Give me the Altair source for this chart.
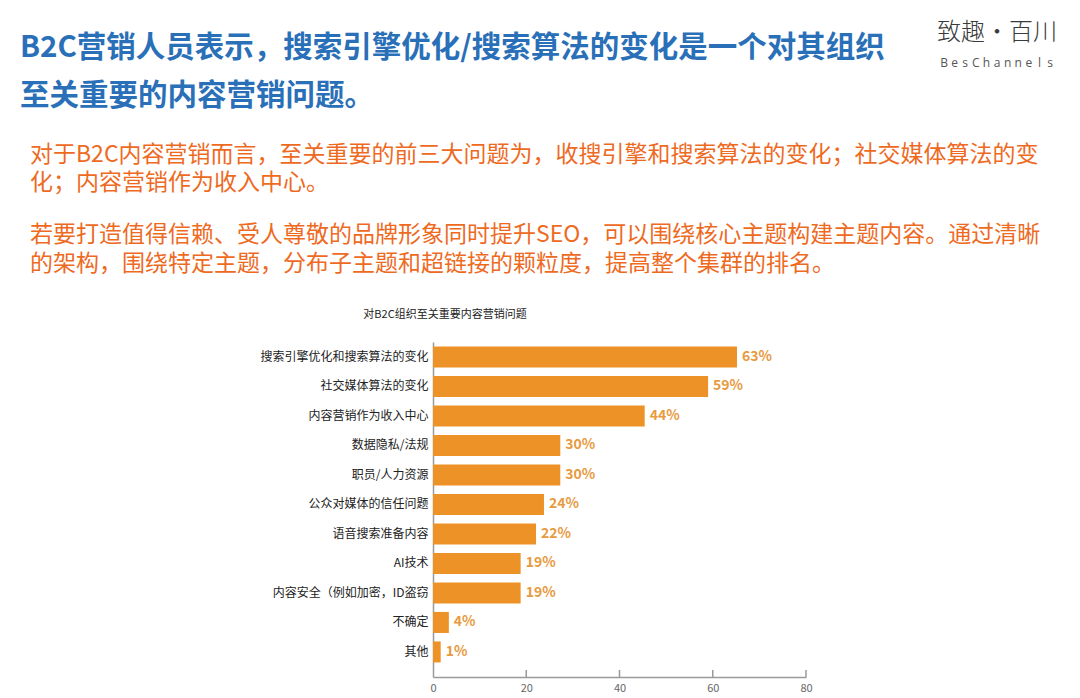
import altair as alt
import pandas as pd

categories = [
    "搜索引擎优化和搜索算法的变化",
    "社交媒体算法的变化",
    "内容营销作为收入中心",
    "数据隐私/法规",
    "职员/人力资源",
    "公众对媒体的信任问题",
    "语音搜索准备内容",
    "AI技术",
    "内容安全（例如加密，ID盗窃",
    "不确定",
    "其他",
]
bar_values = [65.2, 59.0, 45.4, 27.3, 27.3, 23.8, 22.1, 18.8, 18.8, 3.4, 1.65]
labels = ["63%", "59%", "44%", "30%", "30%", "24%", "22%", "19%", "19%", "4%", "1%"]
x_ticks = [0, 20, 40, 60, 80]

title_lines = [
    "B2C营销人员表示，搜索引擎优化/搜索算法的变化是一个对其组织",
    "至关重要的内容营销问题。",
]
para_lines = [
    "对于B2C内容营销而言，至关重要的前三大问题为，收搜引擎和搜索算法的变化；社交媒体算法的变",
    "化；内容营销作为收入中心。",
    "若要打造值得信赖、受人尊敬的品牌形象同时提升SEO，可以围绕核心主题构建主题内容。通过清晰",
    "的架构，围绕特定主题，分布子主题和超链接的颗粒度，提高整个集群的排名。",
]
chart_title = "对B2C组织至关重要内容营销问题"
logo_cn = "致趣·百川"
logo_en = "BesChannels"

FONT = "Noto Sans CJK SC"
BAR = "#ED9226"
W, H = 373, 335

df = pd.DataFrame({"cat": categories, "v": bar_values, "lab": labels})

y_enc = alt.Y(
    "cat:N",
    sort=categories,
    scale=alt.Scale(paddingInner=0.287, paddingOuter=0.321, align=0.233),
    axis=alt.Axis(
        title=None, ticks=False, labelPadding=5, labelFont=FONT, labelFontSize=12,
        labelColor="#222222", domainColor="#9a9a9a", domainWidth=1.5, labelLimit=300,
    ),
)
x_scale = alt.Scale(domain=[0, 80], nice=False)

bars = alt.Chart(df).mark_bar(color=BAR).encode(
    x=alt.X(
        "v:Q", scale=x_scale,
        axis=alt.Axis(
            title=None, values=x_ticks, ticks=False, grid=False, labelPadding=5,
            labelFlush=False, labelFont=FONT, labelFontSize=11, labelColor="#666666",
            domainColor="#9a9a9a", domainWidth=1.5,
        ),
    ),
    y=y_enc,
)

text = alt.Chart(df).mark_text(
    align="left", baseline="middle", dx=5, font=FONT, fontSize=14,
    fontWeight="bold", color="#E89A3E",
).encode(x=alt.X("v:Q", scale=x_scale), y=alt.Y("cat:N", sort=categories), text="lab:N")

ticks = alt.Chart(pd.DataFrame({"t": x_ticks[1:]})).mark_rule(
    color="#9a9a9a", strokeWidth=1.5
).encode(x=alt.X("t:Q", scale=x_scale), y=alt.value(H - 7), y2=alt.value(H))


def label(txt, x, y, size, color, weight="normal", align="left", font=FONT):
    return alt.Chart(pd.DataFrame({"t": [txt]})).mark_text(
        align=align, baseline="middle", font=font, fontSize=size,
        fontWeight=weight, color=color,
    ).encode(x=alt.value(x), y=alt.value(y), text="t:N")


BLUE = "#2A70B8"
ORANGE = "#EE6A1F"
annots = [
    label(title_lines[0], -413, -294, 29.5, BLUE, "bold"),
    label(title_lines[1], -413, -246, 29.5, BLUE, "bold"),
    label(para_lines[0], -403, -187, 23, ORANGE),
    label(para_lines[1], -403, -159, 23, ORANGE),
    label(para_lines[2], -403, -107, 23, ORANGE),
    label(para_lines[3], -403, -78, 23, ORANGE),
    label(chart_title, 12, -27, 11, "#222222", align="center"),
    label(logo_cn, 564, -309, 24, "#3a3a3a", 300, align="center"),
]

logo_df = pd.DataFrame({"c": list(logo_en), "i": list(range(len(logo_en)))})
logo = alt.Chart(logo_df).mark_text(
    align="center", baseline="middle", font="Open Sans", fontSize=12, color="#555555"
).transform_calculate(
    px=f"{564 - 5 * 10.6} + datum.i * 10.6"
).encode(x=alt.X("px:Q", scale=None), y=alt.value(-279), text="c:N")

chart = alt.layer(bars, text, ticks, *annots, logo).properties(
    width=W, height=H,
    padding={"left": 425, "top": 334, "right": 266, "bottom": 16},
    autosize=alt.AutoSizeParams(type="none"),
).configure(background="white").configure_view(strokeWidth=0)

chart.save("out.html", embed_options={"renderer": "svg", "actions": False})
